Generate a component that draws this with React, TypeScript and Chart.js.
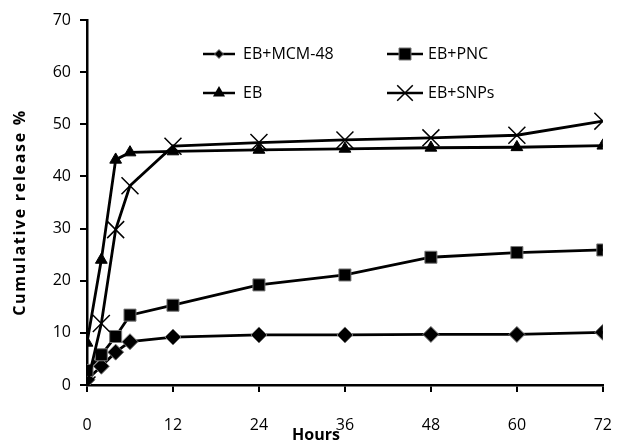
import React, { useEffect, useRef } from 'react';
import { Chart, registerables } from 'chart.js';

Chart.register(...registerables);

const hours = [0, 2, 4, 6, 12, 24, 36, 48, 60, 72];
const mcm48 = [1.0, 3.6, 6.3, 8.3, 9.2, 9.6, 9.6, 9.7, 9.7, 10.1];
const pnc = [2.8, 5.8, 9.3, 13.4, 15.3, 19.2, 21.1, 24.5, 25.4, 25.9];
const eb = [8.1, 24.0, 43.2, 44.6, 44.8, 45.1, 45.3, 45.5, 45.6, 45.9];
const snps = [0.0, 11.8, 29.8, 38.2, 45.8, 46.5, 47.0, 47.4, 47.9, 50.6];
const seriesLabels = ['EB+MCM-48', 'EB+PNC', 'EB', 'EB+SNPs'];
const yTitle = 'Cumulative release %';
const xTitle = 'Hours';

const FONT = '"Open Sans", "DejaVu Sans", sans-serif';

function drawMarker(ctx: CanvasRenderingContext2D, style: string, x: number, y: number, r: number) {
  ctx.save();
  ctx.fillStyle = '#000';
  ctx.beginPath();
  if (style === 'rectRot') {
    ctx.moveTo(x, y - r);
    ctx.lineTo(x + r, y);
    ctx.lineTo(x, y + r);
    ctx.lineTo(x - r, y);
    ctx.closePath();
    ctx.fill();
    ctx.strokeStyle = '#777';
    ctx.lineWidth = 1;
    ctx.stroke();
  } else if (style === 'rect') {
    const s = r * Math.SQRT1_2;
    ctx.rect(x - s, y - s, 2 * s, 2 * s);
    ctx.fill();
    ctx.strokeStyle = '#777';
    ctx.lineWidth = 1;
    ctx.stroke();
  } else if (style === 'triangle') {
    ctx.moveTo(x, y - r);
    ctx.lineTo(x + r * Math.sin(Math.PI / 3), y + r / 2);
    ctx.lineTo(x - r * Math.sin(Math.PI / 3), y + r / 2);
    ctx.closePath();
    ctx.fill();
  } else if (style === 'crossRot') {
    const s = r * Math.SQRT1_2;
    ctx.moveTo(x - s, y - s);
    ctx.lineTo(x + s, y + s);
    ctx.moveTo(x - s, y + s);
    ctx.lineTo(x + s, y - s);
    ctx.strokeStyle = '#000';
    ctx.lineWidth = 1.5;
    ctx.stroke();
  }
  ctx.restore();
}

const legendItems = [
  { label: seriesLabels[0], style: 'rectRot', r: 4.5, x1: 203, x2: 235, tx: 243, y: 54 },
  { label: seriesLabels[1], style: 'rect', r: 8.5, x1: 387, x2: 423, tx: 428, y: 54 },
  { label: seriesLabels[2], style: 'triangle', r: 7, x1: 203, x2: 235, tx: 243, y: 93 },
  { label: seriesLabels[3], style: 'crossRot', r: 11, x1: 387, x2: 423, tx: 428, y: 93 },
];

const customPlugin = {
  id: 'customDecor',
  afterDraw(chart: any) {
    const ctx: CanvasRenderingContext2D = chart.ctx;
    ctx.save();
    for (const it of legendItems) {
      ctx.beginPath();
      ctx.moveTo(it.x1, it.y);
      ctx.lineTo(it.x2, it.y);
      ctx.strokeStyle = '#000';
      ctx.lineWidth = 2.5;
      ctx.stroke();
      drawMarker(ctx, it.style, (it.x1 + it.x2) / 2, it.y, it.r);
      ctx.fillStyle = '#000';
      ctx.font = `16px ${FONT}`;
      ctx.textBaseline = 'middle';
      ctx.textAlign = 'left';
      ctx.fillText(it.label, it.tx, it.y);
    }
    const area = chart.chartArea;
    // x axis title
    ctx.fillStyle = '#000';
    ctx.font = `bold 16px ${FONT}`;
    ctx.textAlign = 'center';
    ctx.textBaseline = 'top';
    ctx.fillText(xTitle, (area.left + area.right) / 2 - 29, 427);
    // y axis title
    ctx.save();
    ctx.translate(20, (area.top + area.bottom) / 2 + 10);
    ctx.rotate(-Math.PI / 2);
    ctx.font = `bold 16px ${FONT}`;
    (ctx as any).letterSpacing = '1.7px';
    ctx.textAlign = 'center';
    ctx.textBaseline = 'middle';
    ctx.fillText(yTitle, 0, 0);
    ctx.restore();
    ctx.restore();
  },
};

export default function App() {
  const ref = useRef<HTMLCanvasElement>(null);
  useEffect(() => {
    if (!ref.current) return;
    const mk = (label: string, data: number[], style: string, r: number, border: string, bw: number) => ({
      label,
      data: hours.map((h, i) => ({ x: h, y: data[i] })),
      borderColor: '#000',
      borderWidth: 2.8,
      backgroundColor: '#000',
      pointStyle: style,
      pointRadius: r,
      pointHoverRadius: r,
      pointBackgroundColor: '#000',
      pointBorderColor: border,
      pointBorderWidth: bw,
      tension: 0,
      fill: false,
    });
    const chart = new Chart(ref.current, {
      type: 'line',
      data: {
        datasets: [
          mk(seriesLabels[2], eb, 'triangle', 6.8, '#000', 1),
          mk(seriesLabels[3], snps, 'crossRot', 12, '#000', 1.5),
          mk(seriesLabels[1], pnc, 'rect', 8.5, '#777', 1),
          mk(seriesLabels[0], mcm48, 'rectRot', 8, '#777', 1),
        ] as any,
      },
      options: {
        animation: false,
        responsive: false,
        maintainAspectRatio: false,
        layout: { padding: { top: 20, right: 14, left: 0, bottom: 0 } },
        plugins: {
          legend: { display: false },
          tooltip: { enabled: false },
          title: { display: false },
        },
        scales: {
          x: {
            type: 'linear',
            min: 0,
            max: 72,
            offset: false,
            afterFit: (s: any) => { s.height = 62; },
            ticks: {
              stepSize: 12,
              autoSkip: false,
              maxRotation: 0,
              color: '#000',
              padding: 24,
              font: { family: FONT, size: 16 },
            },
            grid: {
              drawOnChartArea: false,
              drawTicks: true,
              tickLength: 7,
              color: '#000',
              lineWidth: 2,
            },
            border: { color: '#000', width: 2.5 },
          },
          y: {
            min: 0,
            max: 70,
            afterFit: (s: any) => { s.width = 87; },
            ticks: {
              stepSize: 10,
              color: '#000',
              padding: 9,
              font: { family: FONT, size: 16 },
            },
            grid: {
              drawOnChartArea: false,
              drawTicks: true,
              tickLength: 7,
              color: '#000',
              lineWidth: 2,
            },
            border: { color: '#000', width: 2.5 },
          },
        },
      } as any,
      plugins: [customPlugin],
    });
    return () => chart.destroy();
  }, []);
  return (
    <div style={{ position: 'absolute', left: 0, top: 0, width: 636, height: 447, background: '#fff' }}>
      <canvas ref={ref} width={636} height={447} style={{ width: 636, height: 447, display: 'block' }} />
    </div>
  );
}
